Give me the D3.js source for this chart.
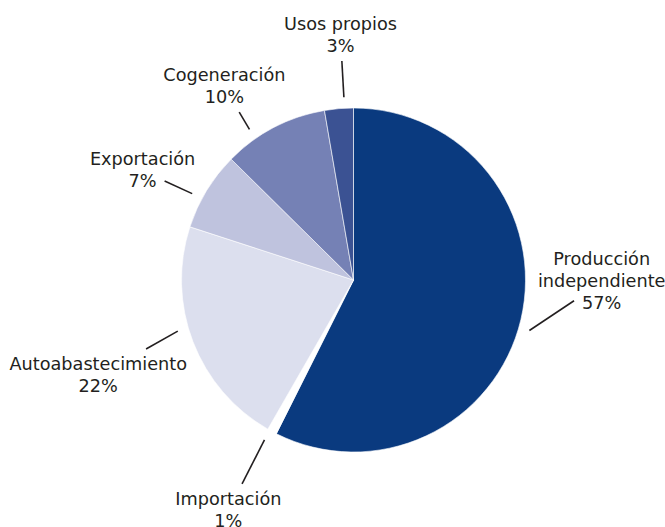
<!DOCTYPE html>
<html><head><meta charset="utf-8">
<script src="https://cdn.jsdelivr.net/npm/d3@7/dist/d3.min.js"></script>
<style>body{margin:0;background:#fff}svg{display:block}</style>
</head><body>
<svg id="chart" width="665" height="527"></svg>
<script>
// ---- data ----
const categories = ["Producción independiente", "Importación", "Autoabastecimiento", "Exportación", "Cogeneración", "Usos propios"];
const labelLines = [["Producción", "independiente"], ["Importación"], ["Autoabastecimiento"], ["Exportación"], ["Cogeneración"], ["Usos propios"]];
const values = [57.4, 0.9, 21.7, 7.4, 9.9, 2.7];
const percentLabels = ["57%", "1%", "22%", "7%", "10%", "3%"];

// ---- style / layout ----
const colors = ["#0a3a7f", "#ffffff", "#dcdfee", "#bfc3de", "#7581b5", "#3b5293"];
const cx = 353.5, cy = 280, R = 172;
const labelAngleShift = [-12.8, 0.2, 0.45, -3.95, -6.25, 1.8];   // degrees, relative to slice mid angle
const labelRadius = [248.2, 262.7, 272.7, 237.5, 232.1, 244.3];
const leaderAngleShift = [2.7, 0.85, 4.85, -3.15, -7.1, 1.85];
const leaderInner = 183, leaderGap = 8, lineH = 22, fontSize = 17.7;

const svg = d3.select("#chart");
const g = svg.append("g").attr("transform", `translate(${cx},${cy})`);

const pie = d3.pie().sort(null).value(d => d)(values);
const arc = d3.arc().innerRadius(0).outerRadius(R);

g.selectAll("path.slice").data(pie).join("path")
  .attr("class", "slice")
  .attr("d", arc)
  .attr("fill", (d, i) => colors[i])
  .attr("stroke", "#ffffff")
  .attr("stroke-width", 0.6);

const rad = deg => deg * Math.PI / 180;
const mid = d => (d.startAngle + d.endAngle) / 2;

pie.forEach((d, i) => {
  const la = mid(d) + rad(labelAngleShift[i]);
  const [lx, ly] = d3.pointRadial(la, labelRadius[i]);
  const lines = labelLines[i].concat([percentLabels[i]]);
  const n = lines.length;
  const firstBase = ly - n * lineH / 2 + 16;
  const tg = g.append("g");
  const boxes = [];
  lines.forEach((t, k) => {
    const txt = tg.append("text")
      .attr("x", lx).attr("y", firstBase + k * lineH)
      .attr("text-anchor", "middle")
      .attr("font-family", "DejaVu Sans, sans-serif")
      .attr("font-size", fontSize)
      .attr("fill", "#231f20")
      .text(t);
    boxes.push(txt.node().getBBox());
  });
  // leader line from near slice toward label, stopping before the nearest text line
  const aa = mid(d) + rad(leaderAngleShift[i]);
  const [x0, y0] = d3.pointRadial(aa, leaderInner);
  let dx = lx - x0, dy = ly - y0;
  const L = Math.hypot(dx, dy); dx /= L; dy /= L;
  let tBest = Infinity;
  boxes.forEach(b => {
    const x1 = b.x - leaderGap, x2 = b.x + b.width + leaderGap;
    const y1 = b.y - leaderGap + 3, y2 = b.y + b.height + leaderGap - 3;
    let tmin = -Infinity, tmax = Infinity;
    if (Math.abs(dx) > 1e-9) {
      const a1 = (x1 - x0) / dx, a2 = (x2 - x0) / dx;
      tmin = Math.max(tmin, Math.min(a1, a2)); tmax = Math.min(tmax, Math.max(a1, a2));
    } else if (x0 < x1 || x0 > x2) { tmin = Infinity; }
    if (Math.abs(dy) > 1e-9) {
      const a1 = (y1 - y0) / dy, a2 = (y2 - y0) / dy;
      tmin = Math.max(tmin, Math.min(a1, a2)); tmax = Math.min(tmax, Math.max(a1, a2));
    } else if (y0 < y1 || y0 > y2) { tmin = Infinity; }
    if (tmin <= tmax && tmin > 0) tBest = Math.min(tBest, tmin);
  });
  if (!isFinite(tBest)) tBest = 30;
  g.append("line")
    .attr("x1", x0).attr("y1", y0)
    .attr("x2", x0 + dx * tBest).attr("y2", y0 + dy * tBest)
    .attr("stroke", "#231f20").attr("stroke-width", 1.6);
});
</script>
</body></html>
